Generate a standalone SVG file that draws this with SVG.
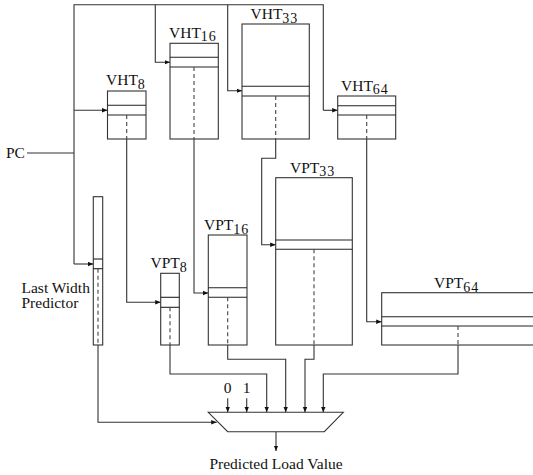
<svg xmlns="http://www.w3.org/2000/svg" width="533" height="475" viewBox="0 0 533 475">
<style>
.box{fill:#fff;stroke:#333;stroke-width:1.1}
.row{fill:none;stroke:#222;stroke-width:1.1}
.dash{fill:none;stroke:#444;stroke-width:1.1;stroke-dasharray:4,3}
.w{fill:none;stroke:#333;stroke-width:1.1}
.arr{fill:none;stroke:#333;stroke-width:1.1;marker-end:url(#ah)}
text{font-family:"Liberation Serif","Times New Roman",serif;font-size:15.5px;fill:#111}
.sub{font-size:14px;letter-spacing:1px}
</style>
<defs>
<marker id="ah" markerUnits="userSpaceOnUse" markerWidth="6" markerHeight="5" refX="5.5" refY="2.25" orient="auto">
<path d="M0,0 L5.5,2.25 L0,4.5 z" fill="#111"/>
</marker>
</defs>
<rect width="533" height="475" fill="#fff"/>
<g id="connectors">
<polyline class="w" points="74,264 74,4.7 323.3,4.7 323.3,110.3"/>
<line class="w" x1="27" y1="153" x2="74" y2="153"/>
<line class="arr" x1="74" y1="264" x2="93.3" y2="264"/>
<line class="arr" x1="74" y1="110.3" x2="107.5" y2="110.3"/>
<polyline class="arr" points="155.3,4.7 155.3,62.3 170,62.3"/>
<polyline class="arr" points="227.7,4.7 227.7,90.7 242,90.7"/>
<line class="arr" x1="323.3" y1="110.3" x2="337.7" y2="110.3"/>
<polyline class="arr" points="126.7,139 126.7,302.3 160.7,302.3"/>
<polyline class="arr" points="194,139 194,293 208.3,293"/>
<polyline class="arr" points="275.7,139 275.7,158.3 261.7,158.3 261.7,244.7 275.7,244.7"/>
<polyline class="arr" points="366.7,139 366.7,321.7 381.7,321.7"/>
<polyline class="arr" points="98,345 98,422.3 216.7,422.3"/>
<polyline class="arr" points="170,345 170,374 266.7,374 266.7,412.3"/>
<polyline class="arr" points="227.7,345 227.7,359.3 285.7,359.3 285.7,412.3"/>
<polyline class="arr" points="314,345 314,359.3 305,359.3 305,412.3"/>
<polyline class="arr" points="458,345 458,374 323.3,374 323.3,412.3"/>
<line class="arr" x1="227.7" y1="398.3" x2="227.7" y2="412.3"/>
<line class="arr" x1="246.7" y1="398.3" x2="246.7" y2="412.3"/>
<line class="arr" x1="276" y1="431.7" x2="276" y2="451"/>
</g>
<g id="pc"><text x="6" y="158">PC</text></g>
<g id="vht8">
<rect class="box" x="107.5" y="91" width="38.5" height="48"/>
<line class="row" x1="107.5" y1="105.3" x2="146" y2="105.3"/>
<line class="row" x1="107.5" y1="115" x2="146" y2="115"/>
<line class="dash" x1="126.7" y1="115" x2="126.7" y2="139"/>
<text x="106" y="85">VHT<tspan class="sub" dy="4">8</tspan></text>
</g>
<g id="vht16">
<rect class="box" x="170" y="43.3" width="48.3" height="95.7"/>
<line class="row" x1="170" y1="57.3" x2="218.3" y2="57.3"/>
<line class="row" x1="170" y1="67" x2="218.3" y2="67"/>
<line class="dash" x1="194" y1="67" x2="194" y2="139"/>
<text x="169" y="37.7">VHT<tspan class="sub" dy="3.5">16</tspan></text>
</g>
<g id="vht33">
<rect class="box" x="242" y="24" width="67.3" height="115"/>
<line class="row" x1="242" y1="86.3" x2="309.3" y2="86.3"/>
<line class="row" x1="242" y1="96" x2="309.3" y2="96"/>
<line class="dash" x1="275.7" y1="96" x2="275.7" y2="139"/>
<text x="250.5" y="19">VHT<tspan class="sub" dy="3.5">33</tspan></text>
</g>
<g id="vht64">
<rect class="box" x="337.7" y="96" width="58" height="43"/>
<line class="row" x1="337.7" y1="105.7" x2="395.7" y2="105.7"/>
<line class="row" x1="337.7" y1="115" x2="395.7" y2="115"/>
<line class="dash" x1="366.7" y1="115" x2="366.7" y2="139"/>
<text x="341" y="90.7">VHT<tspan class="sub" dy="3.5">64</tspan></text>
</g>
<g id="lwp">
<rect class="box" x="93.3" y="196.7" width="9.4" height="148.3"/>
<line class="row" x1="93.3" y1="259" x2="102.7" y2="259"/>
<line class="row" x1="93.3" y1="268.7" x2="102.7" y2="268.7"/>
<line class="dash" x1="98" y1="268.7" x2="98" y2="345"/>
<text x="21.5" y="292.7">Last Width</text>
<text x="21.5" y="308">Predictor</text>
</g>
<g id="vpt8">
<rect class="box" x="160.7" y="273.3" width="18.6" height="71.7"/>
<line class="row" x1="160.7" y1="297.3" x2="179.3" y2="297.3"/>
<line class="row" x1="160.7" y1="307.3" x2="179.3" y2="307.3"/>
<line class="dash" x1="170" y1="307.3" x2="170" y2="345"/>
<text x="150.5" y="268.3">VPT<tspan class="sub" dy="3.5">8</tspan></text>
</g>
<g id="vpt16">
<rect class="box" x="208.3" y="235" width="38.7" height="110"/>
<line class="row" x1="208.3" y1="287.7" x2="247" y2="287.7"/>
<line class="row" x1="208.3" y1="297.3" x2="247" y2="297.3"/>
<line class="dash" x1="227.7" y1="297.3" x2="227.7" y2="345"/>
<text x="204" y="230">VPT<tspan class="sub" dy="3.5">16</tspan></text>
</g>
<g id="vpt33">
<rect class="box" x="275.7" y="177.7" width="76.6" height="167.3"/>
<line class="row" x1="275.7" y1="240" x2="352.3" y2="240"/>
<line class="row" x1="275.7" y1="249.3" x2="352.3" y2="249.3"/>
<line class="dash" x1="314" y1="249.3" x2="314" y2="345"/>
<text x="290" y="172.7">VPT<tspan class="sub" dy="3.5">33</tspan></text>
</g>
<g id="vpt64">
<rect class="box" x="381.7" y="292.7" width="170" height="52.3"/>
<line class="row" x1="381.7" y1="316.7" x2="540" y2="316.7"/>
<line class="row" x1="381.7" y1="326" x2="540" y2="326"/>
<line class="dash" x1="458" y1="326" x2="458" y2="345"/>
<text x="434" y="288.3">VPT<tspan class="sub" dy="3.5">64</tspan></text>
</g>
<g id="mux">
<polygon class="box" points="208.3,412.3 343.3,412.3 324.3,431.7 227.7,431.7"/>
<text x="227.7" y="393.3" text-anchor="middle">0</text>
<text x="246.7" y="393.3" text-anchor="middle">1</text>
</g>
<g id="output"><text x="276" y="469.3" text-anchor="middle">Predicted Load Value</text></g>
</svg>
